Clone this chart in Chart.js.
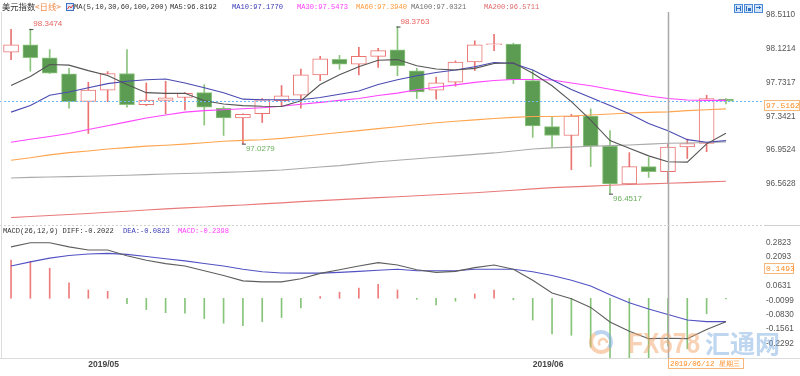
<!DOCTYPE html>
<html>
<head>
<meta charset="utf-8">
<script src="https://cdn.jsdelivr.net/npm/chart.js@4.4.0/dist/chart.umd.min.js"></script>
<style>
html, body { margin: 0; padding: 0; background: #fff; }
#wrap { position: relative; width: 800px; height: 376px; overflow: hidden; background: #fff; }
#main { position: absolute; left: 0; top: 0; }
#macd { position: absolute; left: 0; top: 225px; }
</style>
</head>
<body>
<div id="wrap">
  <canvas id="main" width="800" height="225"></canvas>
  <canvas id="macd" width="800" height="151"></canvas>
</div>
<script>
// daily candles, 2019/04/25 .. 2019/06/17
const opens  = [98.082, 98.167, 98.015, 97.831, 97.514, 97.645, 97.836, 97.477, 97.526, 97.559, 97.615, 97.436, 97.324, 97.372, 97.522, 97.585, 97.820, 97.999, 97.943, 98.033, 98.108, 97.865, 97.645, 97.735, 97.970, 98.167, 98.175, 97.753, 97.223, 97.122, 97.346, 96.999, 96.563, 96.764, 96.705, 96.991, 97.030, 97.540];
const highs  = [98.343, 98.3474, 98.111, 97.895, 97.735, 97.858, 98.111, 97.727, 97.746, 97.615, 97.708, 97.455, 97.372, 97.548, 97.697, 97.887, 98.033, 98.044, 98.138, 98.127, 98.3763, 97.895, 97.794, 97.981, 98.212, 98.287, 98.186, 97.876, 97.335, 97.365, 97.428, 97.178, 96.924, 96.868, 97.025, 97.081, 97.585, 97.548];
const lows   = [97.996, 97.862, 97.835, 97.436, 97.145, 97.511, 97.447, 97.466, 97.372, 97.417, 97.242, 97.122, 97.0279, 97.271, 97.458, 97.436, 97.753, 97.884, 97.820, 97.906, 97.809, 97.548, 97.540, 97.690, 97.869, 98.100, 97.719, 97.100, 96.988, 96.727, 96.764, 96.4517, 96.563, 96.638, 96.570, 96.857, 96.935, 97.484];
const closes = [98.167, 98.018, 97.839, 97.511, 97.645, 97.836, 97.477, 97.529, 97.556, 97.607, 97.447, 97.324, 97.365, 97.533, 97.578, 97.820, 98.004, 97.943, 98.033, 98.100, 97.925, 97.623, 97.727, 97.966, 98.167, 98.168, 97.764, 97.231, 97.122, 97.346, 96.999, 96.563, 96.764, 96.705, 96.988, 97.030, 97.548, 97.5162];

const ma5   = [97.697, 97.802, 97.940, 97.932, 97.869, 97.813, 97.708, 97.615, 97.607, 97.607, 97.522, 97.484, 97.466, 97.458, 97.455, 97.522, 97.708, 97.820, 97.914, 97.988, 97.996, 97.925, 97.887, 97.876, 97.895, 97.951, 97.959, 97.839, 97.694, 97.511, 97.298, 97.063, 96.974, 96.887, 96.8192, 96.815, 97.025, 97.148];
const ma10  = [97.391, 97.466, 97.585, 97.623, 97.671, 97.719, 97.746, 97.764, 97.772, 97.727, 97.671, 97.615, 97.540, 97.533, 97.533, 97.533, 97.559, 97.596, 97.634, 97.708, 97.764, 97.809, 97.847, 97.876, 97.914, 97.962, 97.951, 97.876, 97.764, 97.652, 97.559, 97.466, 97.372, 97.260, 97.177, 97.074, 97.044, 97.063];
const ma30  = [97.044, 97.078, 97.111, 97.145, 97.190, 97.234, 97.279, 97.324, 97.358, 97.391, 97.408, 97.419, 97.430, 97.442, 97.458, 97.481, 97.503, 97.526, 97.548, 97.582, 97.610, 97.649, 97.677, 97.705, 97.733, 97.755, 97.766, 97.766, 97.761, 97.727, 97.694, 97.654, 97.615, 97.576, 97.5473, 97.531, 97.526, 97.526];
const ma60  = [96.837, 96.865, 96.899, 96.924, 96.943, 96.966, 96.982, 96.999, 97.010, 97.022, 97.038, 97.055, 97.066, 97.072, 97.089, 97.111, 97.134, 97.156, 97.178, 97.201, 97.223, 97.246, 97.268, 97.285, 97.302, 97.318, 97.330, 97.341, 97.341, 97.346, 97.358, 97.369, 97.380, 97.388, 97.394, 97.408, 97.419, 97.428];
const ma100 = [96.633, 96.639, 96.643, 96.648, 96.652, 96.658, 96.663, 96.671, 96.678, 96.684, 96.690, 96.697, 96.705, 96.714, 96.725, 96.742, 96.759, 96.775, 96.798, 96.820, 96.837, 96.854, 96.871, 96.887, 96.904, 96.921, 96.943, 96.966, 96.979, 96.988, 96.997, 97.005, 97.013, 97.022, 97.0321, 97.035, 97.041, 97.046];
const ma200 = [96.176, 96.189, 96.200, 96.212, 96.223, 96.237, 96.250, 96.264, 96.277, 96.288, 96.299, 96.311, 96.322, 96.334, 96.346, 96.360, 96.372, 96.383, 96.395, 96.406, 96.417, 96.428, 96.439, 96.451, 96.462, 96.476, 96.491, 96.507, 96.521, 96.530, 96.539, 96.548, 96.557, 96.565, 96.5711, 96.579, 96.587, 96.594];

const diff = [0.260, 0.281, 0.281, 0.260, 0.244, 0.244, 0.215, 0.192, 0.175, 0.163, 0.139, 0.115, 0.088, 0.083, 0.083, 0.099, 0.126, 0.144, 0.163, 0.180, 0.168, 0.144, 0.131, 0.136, 0.155, 0.168, 0.147, 0.091, 0.027, -0.002, -0.046, -0.120, -0.167, -0.204, -0.2022, -0.204, -0.158, -0.118];
const dea  = [0.163, 0.184, 0.203, 0.216, 0.224, 0.227, 0.222, 0.211, 0.200, 0.189, 0.176, 0.163, 0.147, 0.134, 0.128, 0.127, 0.127, 0.131, 0.136, 0.142, 0.147, 0.139, 0.139, 0.139, 0.147, 0.147, 0.147, 0.134, 0.115, 0.091, 0.062, 0.018, -0.022, -0.054, -0.0823, -0.110, -0.118, -0.118];
const hist = [0.193, 0.187, 0.152, 0.078, 0.042, 0.035, -0.027, -0.057, -0.073, -0.075, -0.102, -0.126, -0.138, -0.118, -0.097, -0.049, 0.009, 0.031, 0.051, 0.070, 0.042, -0.005, -0.033, -0.014, 0.022, 0.042, -0.008, -0.110, -0.180, -0.187, -0.247, -0.300, -0.310, -0.310, -0.2398, -0.255, -0.078, -0.003];

const priceTicks = [98.5110, 98.1214, 97.7317, 97.3421, 96.9524, 96.5628];
const macdTicks = [0.2823, 0.2093, 0.1362, 0.0631, -0.0099, -0.0830, -0.1561, -0.2292];
const monthIdx = [4, 27];
const monthText = ['2019/05', '2019/06'];
const highMarks = [1, 20];
const lowMarks = [12, 31];
const crossIdx = 34;
const crossDate = '2019/06/12 星期三';
const lastPrice = 97.5162;
const macdCursor = 0.1493;

const UP = '#e97472', DOWN = '#5c9c52', DOWN_EDGE = '#8cc47e';
const MONO = '"Liberation Mono", monospace';
const SANS = '"Liberation Sans", Arial, sans-serif';
const CJK = '"Noto Sans CJK SC", sans-serif';

const xs = opens.map((_, i) => i);
const isUp = opens.map((o, i) => closes[i] >= opens[i]);

function pts(arr) { return arr.map((v, i) => ({ x: i, y: v })); }
function maLine(arr, color) {
    return { type: 'line', data: pts(arr), borderColor: color, borderWidth: 1.1, pointRadius: 0, tension: 0, order: 0 };
}
function fixTicks(values) {
    return scale => { scale.ticks = values.map(v => ({ value: v })); };
}
function fixWidth(w) { return scale => { scale.width = w; }; }

function drawTag(ctx, text, x, y, w, h, font) {
    ctx.fillStyle = '#fff';
    ctx.fillRect(x, y, w, h);
    ctx.strokeStyle = '#f6b77c';
    ctx.lineWidth = 1;
    ctx.strokeRect(x + 0.5, y + 0.5, w - 1, h - 1);
    ctx.fillStyle = '#ff8a1e';
    ctx.font = font;
    ctx.textBaseline = 'middle';
    ctx.textAlign = 'left';
    ctx.fillText(text, x + 2, y + h / 2 + 0.5);
}

function txt(ctx, s, x, y, color, font) {
    ctx.fillStyle = color;
    ctx.font = font;
    ctx.textBaseline = 'middle';
    ctx.textAlign = 'left';
    ctx.fillText(s, x, y);
}

const mainOverlay = {
    id: 'mainOverlay',
    afterDatasetsDraw(chart) {
        const { ctx, chartArea: a, scales: { x, y } } = chart;
        ctx.save();
        // last price dotted line
        const py = Math.round(y.getPixelForValue(lastPrice)) + 0.5;
        ctx.strokeStyle = '#6fb8fb';
        ctx.lineWidth = 1.2;
        ctx.setLineDash([2, 2]);
        ctx.beginPath(); ctx.moveTo(0, py); ctx.lineTo(a.right, py); ctx.stroke();
        ctx.setLineDash([]);

        // crosshair
        const cx = Math.round(x.getPixelForValue(crossIdx)) + 0.5;
        ctx.strokeStyle = '#a8a8a8';
        ctx.lineWidth = 1.5;
        ctx.beginPath(); ctx.moveTo(cx, a.top + 2); ctx.lineTo(cx, 225); ctx.stroke();

        // high / low marks
        ctx.lineWidth = 1;
        highMarks.forEach(i => {
            const hx = x.getPixelForValue(i), hy = y.getPixelForValue(highs[i]);
            ctx.strokeStyle = '#444';
            ctx.beginPath(); ctx.moveTo(hx - 1, hy + 0.5); ctx.lineTo(hx + 3, hy + 0.5); ctx.stroke();
            txt(ctx, highs[i].toFixed(4), hx + 3, hy - 5, '#e8625e', '8px ' + SANS);
        });
        lowMarks.forEach(i => {
            const lx = x.getPixelForValue(i), ly = y.getPixelForValue(lows[i]);
            ctx.strokeStyle = '#444';
            ctx.beginPath(); ctx.moveTo(lx - 1, ly + 0.5); ctx.lineTo(lx + 3, ly + 0.5); ctx.stroke();
            txt(ctx, lows[i].toFixed(4), lx + 3, ly + 5, '#69ad5c', '8px ' + SANS);
        });
        ctx.restore();
    },
    afterDraw(chart) {
        const { ctx, scales: { y } } = chart;
        ctx.save();
        // left border
        ctx.strokeStyle = '#dcdcdc';
        ctx.lineWidth = 1;
        ctx.beginPath(); ctx.moveTo(1.5, 12); ctx.lineTo(1.5, 225); ctx.stroke();

        // legend line
        txt(ctx, '美元指数', 2, 7, '#333', '8.3px ' + CJK);
        txt(ctx, '<日线>', 35, 7, '#f08a4b', '8.3px ' + CJK);
        ctx.fillStyle = '#dfe9f8';
        ctx.fillRect(66, 3, 8, 8);
        ctx.strokeStyle = '#3f72c8';
        ctx.strokeRect(66.5, 3.5, 7, 7);
        ctx.strokeStyle = '#d84040';
        ctx.beginPath(); ctx.moveTo(67.5, 9); ctx.lineTo(69.5, 6); ctx.lineTo(71, 8); ctx.lineTo(73, 5); ctx.stroke();
        const mf = '7.1px ' + MONO;
        txt(ctx, 'MA(5,10,30,60,100,200)', 74, 7, '#333', mf);
        txt(ctx, 'MA5:96.8192', 170, 7, '#333', mf);
        txt(ctx, 'MA10:97.1770', 232, 7, '#3a3ab8', mf);
        txt(ctx, 'MA30:97.5473', 297, 7, '#ff3cff', mf);
        txt(ctx, 'MA60:97.3940', 356, 7, '#ff9a3c', mf);
        txt(ctx, 'MA100:97.0321', 411, 7, '#707070', mf);
        txt(ctx, 'MA200:96.5711', 484, 7, '#e06a6a', mf);

        // top-right buttons
        [734, 744, 754].forEach((bx, k) => {
            ctx.fillStyle = '#d4e4f7';
            ctx.fillRect(bx, 4, 9, 9);
            ctx.strokeStyle = '#4a8ad6';
            ctx.strokeRect(bx + 0.5, 4.5, 8, 8);
            ctx.fillStyle = '#2f6fc4';
            if (k === 0) { ctx.fillRect(bx + 2, 6, 1, 5); ctx.fillRect(bx + 6, 6, 1, 5); ctx.fillRect(bx + 3, 8, 3, 1); }
            if (k === 1) { ctx.fillRect(bx + 2, 6, 1, 5); ctx.fillRect(bx + 4, 8, 3, 3); }
            if (k === 2) { ctx.fillRect(bx + 2, 7, 5, 1); ctx.fillRect(bx + 5, 6, 1, 3); }
        });

        // price tag
        const py = Math.round(y.getPixelForValue(lastPrice));
        drawTag(ctx, lastPrice.toFixed(4), 764, py - 1, 36, 11, '8px ' + MONO);
        ctx.restore();
    }
};

const macdOverlay = {
    id: 'macdOverlay',
    afterDatasetsDraw(chart) {
        const { ctx, chartArea: a, scales: { x } } = chart;
        ctx.save();
        const cx = Math.round(x.getPixelForValue(crossIdx)) + 0.5;
        ctx.strokeStyle = '#a8a8a8';
        ctx.lineWidth = 1.5;
        ctx.beginPath(); ctx.moveTo(cx, 0); ctx.lineTo(cx, a.bottom); ctx.stroke();

        // watermark
        ctx.globalAlpha = 0.5;
        ctx.lineWidth = 4;
        ctx.strokeStyle = '#f3a366';
        ctx.beginPath(); ctx.arc(601, 117, 10, Math.PI * 0.2, Math.PI * 1.3); ctx.stroke();
        ctx.strokeStyle = '#79a9df';
        ctx.beginPath(); ctx.arc(601, 117, 10, Math.PI * 1.3, Math.PI * 2.2); ctx.stroke();
        ctx.lineWidth = 2.5;
        ctx.strokeStyle = '#f3a366';
        ctx.beginPath(); ctx.arc(603, 118, 4, Math.PI * 0.8, Math.PI * 2); ctx.stroke();
        ctx.fillStyle = '#f4a56c';
        ctx.font = 'bold 29px ' + SANS;
        ctx.textBaseline = 'alphabetic';
        ctx.fillText('FX678', 628, 128, 72);
        ctx.fillStyle = '#7eaee0';
        ctx.font = 'bold 25px ' + CJK;
        ctx.fillText('汇通网', 705, 128, 78);
        ctx.globalAlpha = 1;
        ctx.restore();
    },
    afterDraw(chart) {
        const { ctx, chartArea: a, scales: { x } } = chart;
        ctx.save();
        ctx.strokeStyle = '#d0d0d0';
        ctx.lineWidth = 1;
        ctx.setLineDash([2, 2]);
        ctx.beginPath(); ctx.moveTo(0, 0.5); ctx.lineTo(a.right, 0.5); ctx.stroke();
        ctx.setLineDash([]);
        ctx.beginPath(); ctx.moveTo(a.right, 0.5); ctx.lineTo(800, 0.5); ctx.stroke();
        ctx.strokeStyle = '#dcdcdc';
        ctx.beginPath(); ctx.moveTo(0, a.bottom + 0.5); ctx.lineTo(800, a.bottom + 0.5); ctx.stroke();
        ctx.beginPath(); ctx.moveTo(1.5, 0); ctx.lineTo(1.5, a.bottom); ctx.stroke();

        const mf = '7.1px ' + MONO;
        txt(ctx, 'MACD(26,12,9) DIFF:-0.2022', 3, 6, '#333', mf);
        txt(ctx, 'DEA:-0.0823', 123, 6, '#3a3ab8', mf);
        txt(ctx, 'MACD:-0.2398', 178, 6, '#ff3cff', mf);

        drawTag(ctx, macdCursor.toFixed(4), 764, 38, 30, 11, '8px ' + MONO);
        const cx = Math.round(x.getPixelForValue(crossIdx));
        drawTag(ctx, crossDate, cx, a.bottom, 76, 11, '7.4px ' + MONO);
        ctx.restore();
    }
};

const xMin = -0.52, xMax = 38.97;

new Chart(document.getElementById('main'), {
    type: 'bar',
    data: {
        datasets: [
            maLine(ma5, '#555555'),
            maLine(ma10, '#4a4ab2'),
            maLine(ma30, '#ff45ff'),
            maLine(ma60, '#ffa54f'),
            maLine(ma100, '#aaaaaa'),
            maLine(ma200, '#e97a7a'),
            {
                data: xs.map(i => ({ x: i, y: [opens[i], closes[i]] })),
                backgroundColor: isUp.map(u => u ? '#ffffff' : DOWN),
                borderColor: isUp.map(u => u ? UP : DOWN_EDGE),
                borderWidth: 1, borderSkipped: false, minBarLength: 1,
                barThickness: 15, grouped: false, order: 1
            },
            {
                data: xs.map(i => ({ x: i, y: [lows[i], highs[i]] })),
                backgroundColor: isUp.map(u => u ? UP : DOWN_EDGE),
                borderWidth: 0, barThickness: 1, grouped: false, order: 2
            }
        ]
    },
    options: {
        responsive: false,
        animation: false,
        layout: { padding: { left: 1, top: 10, right: 0, bottom: 1 } },
        plugins: { legend: { display: false }, tooltip: { enabled: false } },
        scales: {
            x: { type: 'linear', offset: false, min: xMin, max: xMax, display: false },
            y: {
                position: 'right',
                min: 96.1706, max: 98.567,
                afterBuildTicks: fixTicks(priceTicks),
                afterFit: fixWidth(36),
                grid: { display: false, drawTicks: false },
                border: { display: false },
                ticks: {
                    padding: 2, color: '#555',
                    font: { family: 'Liberation Sans', size: 8.2 },
                    callback: v => Number(v).toFixed(4)
                }
            }
        }
    },
    plugins: [mainOverlay]
});

new Chart(document.getElementById('macd'), {
    type: 'bar',
    data: {
        datasets: [
            { type: 'line', data: pts(diff), borderColor: '#5e5e5e', borderWidth: 1.1, pointRadius: 0, order: 0 },
            { type: 'line', data: pts(dea), borderColor: '#5252c4', borderWidth: 1.1, pointRadius: 0, order: 0 },
            {
                data: pts(hist),
                backgroundColor: hist.map(v => v >= 0 ? '#ee7c7c' : '#86c47a'),
                borderWidth: 0, barThickness: 1, grouped: false, order: 1
            }
        ]
    },
    options: {
        responsive: false,
        animation: false,
        layout: { padding: { left: 1, top: 1, right: 0, bottom: 0 } },
        plugins: { legend: { display: false }, tooltip: { enabled: false } },
        scales: {
            x: {
                type: 'linear', offset: false, min: xMin, max: xMax,
                afterBuildTicks: fixTicks(monthIdx),
                afterFit: scale => { scale.height = 18; },
                grid: { display: false, drawTicks: false, offset: false },
                border: { display: false },
                ticks: {
                    align: 'start', padding: 2, maxRotation: 0, autoSkip: false,
                    color: '#444',
                    font: { family: 'Liberation Sans', size: 8.5, weight: 'bold' },
                    callback: v => monthText[monthIdx.indexOf(v)]
                }
            },
            y: {
                position: 'right',
                min: -0.3017, max: 0.3354,
                afterBuildTicks: fixTicks(macdTicks),
                afterFit: fixWidth(36),
                grid: { display: false, drawTicks: false },
                border: { display: false },
                ticks: {
                    padding: 2, color: '#555',
                    font: { family: 'Liberation Sans', size: 8.2 },
                    callback: v => Number(v).toFixed(4)
                }
            }
        }
    },
    plugins: [macdOverlay]
});
</script>
</body>
</html>
